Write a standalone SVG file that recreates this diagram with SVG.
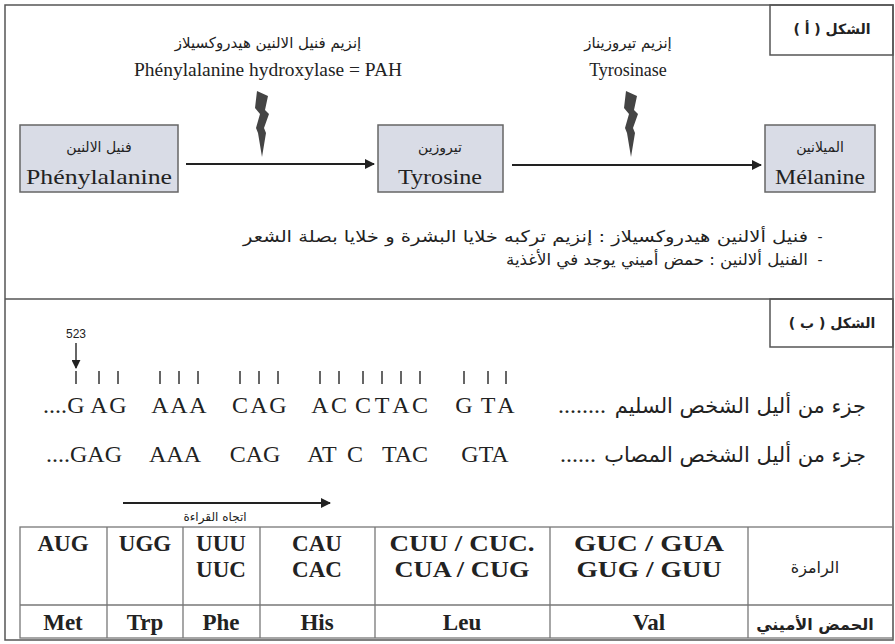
<svg xmlns="http://www.w3.org/2000/svg" width="895" height="644" viewBox="0 0 895 644">
<defs>
<marker id="ah" viewBox="0 0 10 10" refX="9" refY="5" markerWidth="6" markerHeight="5" orient="auto" markerUnits="strokeWidth">
<path d="M0,0 L10,5 L0,10 z" fill="#222"/>
</marker>
<marker id="ahs" viewBox="0 0 10 10" refX="9" refY="5" markerWidth="6" markerHeight="6" orient="auto" markerUnits="strokeWidth">
<path d="M0,0 L10,5 L0,10 z" fill="#222"/>
</marker>
<style>
.frame{fill:none;stroke:#555;stroke-width:1.5}
.node{fill:#d9dce6;stroke:#666;stroke-width:1.5}
.ar{font-family:"DejaVu Sans",sans-serif;fill:#222}
.lat{font-family:"Liberation Serif",serif;fill:#222}
.seq{font-family:"Liberation Serif",serif;font-size:24px;fill:#222}
.seqm{font-family:"Liberation Serif",serif;font-size:24px;fill:#222;text-anchor:middle}
.tb{font-family:"Liberation Serif",serif;font-size:23px;font-weight:bold;fill:#222;text-anchor:middle}
.tl{stroke:#777;stroke-width:1.3;fill:none}
.conn{stroke:#222;stroke-width:2;fill:none}
.tick{stroke:#333;stroke-width:1.5}
.bolt{fill:#444}
</style>
</defs>
<rect width="895" height="644" fill="#fff"/>
<g id="frame">
<rect class="frame" x="5" y="5" width="888" height="635"/>
<line class="frame" x1="5" y1="299" x2="893" y2="299"/>
</g>
<g id="labelA">
<rect class="frame" x="770" y="5" width="123" height="50"/>
<text class="ar" x="832" y="34" font-size="14" font-weight="bold" text-anchor="middle">الشكل ( أ )</text>
</g>
<g id="enzyme1">
<text class="ar" x="268" y="48" font-size="15" text-anchor="middle">إنزيم فنيل الالنين هيدروكسيلاز</text>
<text class="lat" x="268" y="76" font-size="18" text-anchor="middle" textLength="268" lengthAdjust="spacingAndGlyphs">Phénylalanine hydroxylase = PAH</text>
<polygon class="bolt" points="257,91 268,96 265,110 269,114 264,128 266,133 262,157 258,133 256,128 260,114 255,108"/>
</g>
<g id="enzyme2">
<text class="ar" x="628" y="48" font-size="15" text-anchor="middle">إنزيم تيروزيناز</text>
<text class="lat" x="628" y="76" font-size="18" text-anchor="middle">Tyrosinase</text>
<polygon class="bolt" points="626,91 637,96 634,110 638,114 633,128 635,133 631,157 627,133 625,128 629,114 624,108"/>
</g>
<g id="phe">
<rect class="node" x="20" y="125" width="158" height="67"/>
<text class="ar" x="99" y="152" font-size="14" text-anchor="middle">فنيل الالنين</text>
<text class="lat" x="99" y="184" font-size="21" text-anchor="middle" textLength="146" lengthAdjust="spacingAndGlyphs">Phénylalanine</text>
</g>
<g id="tyr">
<rect class="node" x="378" y="125" width="125" height="67"/>
<text class="ar" x="440" y="152" font-size="14" text-anchor="middle">تيروزين</text>
<text class="lat" x="440" y="184" font-size="21" text-anchor="middle" textLength="84" lengthAdjust="spacingAndGlyphs">Tyrosine</text>
</g>
<g id="mel">
<rect class="node" x="765" y="125" width="110" height="67"/>
<text class="ar" x="820" y="152" font-size="14" text-anchor="middle">الميلانين</text>
<text class="lat" x="820" y="184" font-size="21" text-anchor="middle" textLength="90" lengthAdjust="spacingAndGlyphs">Mélanine</text>
</g>
<g id="connectors">
<line class="conn" x1="186" y1="164" x2="374" y2="164" marker-end="url(#ah)"/>
<line class="conn" x1="512" y1="165" x2="761" y2="165" marker-end="url(#ah)"/>
<line class="tick" x1="76" y1="343" x2="76" y2="368" marker-end="url(#ahs)"/>
<line class="conn" x1="123" y1="503" x2="330" y2="503" stroke-width="2.5" marker-end="url(#ah)"/>
</g>
<g id="notes">
<text class="ar" x="820" y="242" font-size="14" text-anchor="middle">-</text>
<text class="ar" x="808" y="242" font-size="16" text-anchor="end" textLength="565" lengthAdjust="spacingAndGlyphs">فنيل ألالنين هيدروكسيلاز : إنزيم تركبه خلايا البشرة و خلايا بصلة الشعر</text>
<text class="ar" x="820" y="265" font-size="14" text-anchor="middle">-</text>
<text class="ar" x="808" y="265" font-size="16" text-anchor="end" textLength="302" lengthAdjust="spacingAndGlyphs">الفنيل ألالنين : حمض أميني يوجد في الأغذية</text>
</g>
<g id="labelB">
<rect class="frame" x="770" y="299" width="123" height="48"/>
<text class="ar" x="832" y="328" font-size="14" font-weight="bold" text-anchor="middle">الشكل ( ب )</text>
</g>
<g id="pos523">
<text font-family="Liberation Sans, sans-serif" font-size="12" x="76" y="338" fill="#222" text-anchor="middle">523</text>
</g>
<g id="ticks">
<line class="tick" x1="76" y1="371" x2="76" y2="384"/>
<line class="tick" x1="99" y1="371" x2="99" y2="384"/>
<line class="tick" x1="118" y1="371" x2="118" y2="384"/>
<line class="tick" x1="160" y1="371" x2="160" y2="384"/>
<line class="tick" x1="179" y1="371" x2="179" y2="384"/>
<line class="tick" x1="198" y1="371" x2="198" y2="384"/>
<line class="tick" x1="240" y1="371" x2="240" y2="384"/>
<line class="tick" x1="259" y1="371" x2="259" y2="384"/>
<line class="tick" x1="278" y1="371" x2="278" y2="384"/>
<line class="tick" x1="320" y1="371" x2="320" y2="384"/>
<line class="tick" x1="339" y1="371" x2="339" y2="384"/>
<line class="tick" x1="363" y1="371" x2="363" y2="384"/>
<line class="tick" x1="382" y1="371" x2="382" y2="384"/>
<line class="tick" x1="401" y1="371" x2="401" y2="384"/>
<line class="tick" x1="420" y1="371" x2="420" y2="384"/>
<line class="tick" x1="464" y1="371" x2="464" y2="384"/>
<line class="tick" x1="488" y1="371" x2="488" y2="384"/>
<line class="tick" x1="506" y1="371" x2="506" y2="384"/>
</g>
<g id="seq1">
<text class="seq" x="43" y="413">....</text>
<text class="seqm" x="76 99 118 160 179 198 240 259 278 320 339 363 382 401 420 464 488 506" y="413">GAGAAACAGACCTACGTA</text>
<text class="seq" x="558" y="413">........</text>
<text class="ar" x="866" y="413" font-size="21" text-anchor="end">جزء من أليل الشخص السليم</text>
</g>
<g id="seq2">
<text class="seq" x="46" y="462">....</text>
<text class="seqm" x="96" y="462">GAG</text>
<text class="seqm" x="175" y="462">AAA</text>
<text class="seqm" x="255" y="462">CAG</text>
<text class="seqm" x="322" y="462">AT</text>
<text class="seqm" x="355" y="462">C</text>
<text class="seqm" x="405" y="462">TAC</text>
<text class="seqm" x="485" y="462">GTA</text>
<text class="seq" x="560" y="462">......</text>
<text class="ar" x="866" y="462" font-size="21" text-anchor="end">جزء من أليل الشخص المصاب</text>
</g>
<g id="readdir">
<text class="ar" x="215" y="521" font-size="12" text-anchor="middle">اتجاه القراءة</text>
</g>
<g id="table">
<rect class="tl" x="20" y="527" width="873" height="111"/>
<line class="tl" x1="20" y1="605" x2="893" y2="605"/>
<line class="tl" x1="107" y1="527" x2="107" y2="638"/>
<line class="tl" x1="183" y1="527" x2="183" y2="638"/>
<line class="tl" x1="260" y1="527" x2="260" y2="638"/>
<line class="tl" x1="375" y1="527" x2="375" y2="638"/>
<line class="tl" x1="550" y1="527" x2="550" y2="638"/>
<line class="tl" x1="748" y1="527" x2="748" y2="638"/>
<text class="tb" x="63" y="551">AUG</text>
<text class="tb" x="145" y="551">UGG</text>
<text class="tb" x="221" y="551">UUU</text>
<text class="tb" x="221" y="577">UUC</text>
<text class="tb" x="317" y="551">CAU</text>
<text class="tb" x="317" y="577">CAC</text>
<text class="tb" x="462" y="551" textLength="145" lengthAdjust="spacingAndGlyphs">CUU / CUC.</text>
<text class="tb" x="462" y="577" textLength="135" lengthAdjust="spacingAndGlyphs">CUA / CUG</text>
<text class="tb" x="649" y="551" textLength="150" lengthAdjust="spacingAndGlyphs">GUC  /  GUA</text>
<text class="tb" x="649" y="577" textLength="145" lengthAdjust="spacingAndGlyphs">GUG   / GUU</text>
<text class="ar" x="815" y="573" font-size="16" text-anchor="middle">الرامزة</text>
<text class="tb" x="63" y="630">Met</text>
<text class="tb" x="145" y="630">Trp</text>
<text class="tb" x="221" y="630">Phe</text>
<text class="tb" x="317" y="630">His</text>
<text class="tb" x="462" y="630">Leu</text>
<text class="tb" x="649" y="630">Val</text>
<text class="ar" x="815" y="630" font-size="16" font-weight="bold" text-anchor="middle">الحمض الأميني</text>
</g>
</svg>
